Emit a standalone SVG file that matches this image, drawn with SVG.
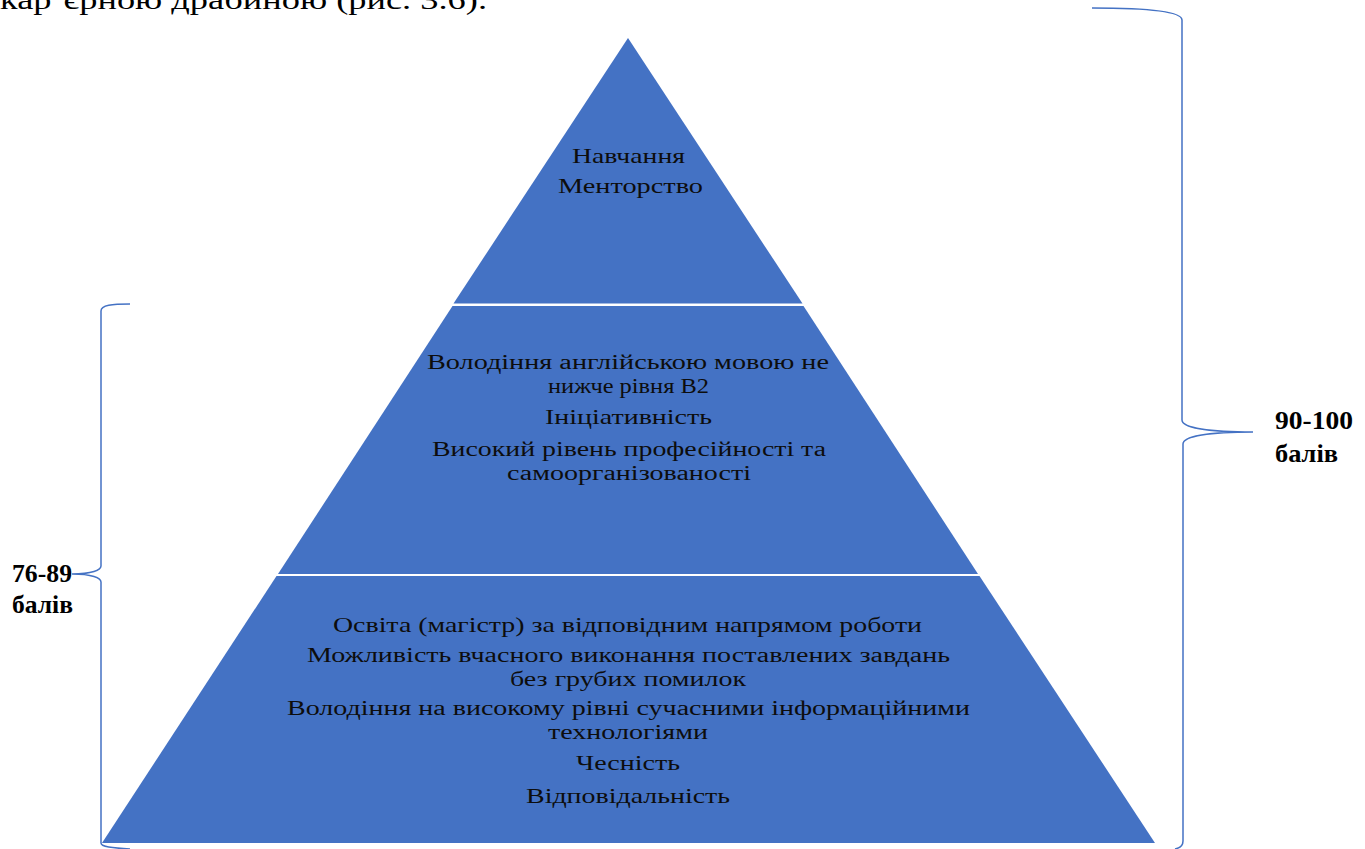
<svg xmlns="http://www.w3.org/2000/svg" width="1365" height="849" viewBox="0 0 1365 849">
<style>
.tier{fill:#4472C4;stroke:none}
.t{font-family:"Liberation Serif","DejaVu Serif","Times New Roman",serif;font-size:22px;fill:#0d0d0d;text-anchor:middle}
.tw{font-size:20.5px}
.lbl{font-family:"Liberation Serif","DejaVu Serif","Times New Roman",serif;font-size:26px;font-weight:bold;fill:#000}
.br{fill:none;stroke:#4472C4;stroke-width:1.5}
.body{font-family:"Liberation Serif","DejaVu Serif","Times New Roman",serif;font-size:28px;fill:#000}
</style>
<rect width="1365" height="849" fill="#fff"/>
<text class="body" x="0" y="9" textLength="487" lengthAdjust="spacingAndGlyphs">кар’єрною драбиною (рис. 3.6).</text>
<g id="tier-top">
<polygon class="tier" points="628,38 802.5,303.5 453.5,303.5"/>
<text class="t" x="628.5" y="163" textLength="113" lengthAdjust="spacingAndGlyphs">Навчання</text>
<text class="t" x="630.5" y="193" textLength="145" lengthAdjust="spacingAndGlyphs">Менторство</text>
</g>
<g id="tier-middle">
<polygon class="tier" points="452.5,306 803.5,306 978,574 278,574"/>
<text class="t tw" x="628" y="369" textLength="402" lengthAdjust="spacingAndGlyphs">Володіння англійською мовою не</text>
<text class="t tw" x="628.5" y="393" textLength="161" lengthAdjust="spacingAndGlyphs">нижче рівня В2</text>
<text class="t" x="628.5" y="424" textLength="167" lengthAdjust="spacingAndGlyphs">Ініціативність</text>
<text class="t tw" x="629" y="456" textLength="394" lengthAdjust="spacingAndGlyphs">Високий рівень професійності та</text>
<text class="t tw" x="629" y="480" textLength="244" lengthAdjust="spacingAndGlyphs">самоорганізованості</text>
</g>
<g id="tier-bottom">
<polygon class="tier" points="276.5,576 979.5,576 1155,843 102,843"/>
<text class="t" x="627.5" y="632" textLength="589" lengthAdjust="spacingAndGlyphs">Освіта (магістр) за відповідним напрямом роботи</text>
<text class="t tw" x="628.5" y="662" textLength="643" lengthAdjust="spacingAndGlyphs">Можливість вчасного виконання поставлених завдань</text>
<text class="t tw" x="628" y="686" textLength="236" lengthAdjust="spacingAndGlyphs">без грубих помилок</text>
<text class="t tw" x="628.5" y="715" textLength="683" lengthAdjust="spacingAndGlyphs">Володіння на високому рівні сучасними інформаційними</text>
<text class="t tw" x="628" y="739" textLength="160" lengthAdjust="spacingAndGlyphs">технологіями</text>
<text class="t" x="628" y="770" textLength="104" lengthAdjust="spacingAndGlyphs">Чесність</text>
<text class="t" x="628" y="803" textLength="204" lengthAdjust="spacingAndGlyphs">Відповідальність</text>
</g>
<g id="connectors">
<path class="br" d="M1092,8 C1150,8 1182,12 1182,20 L1182,420 C1182,428 1210,432 1253,432 C1210,432 1183,436 1183,444 L1183,841 C1183,846 1180,848 1175,849"/>
<path class="br" d="M130,304 C112,304 101,305 101,311 L101,566 C101,570 92,574 72,574 C92,574 101,578 101,582 L101,843 C101,847 112,848 130,849"/>
</g>
<g id="label-right">
<text class="lbl" x="1275" y="429" textLength="78" lengthAdjust="spacingAndGlyphs">90-100</text>
<text class="lbl" x="1275" y="462" textLength="63" lengthAdjust="spacingAndGlyphs">балів</text>
</g>
<g id="label-left">
<text class="lbl" x="12" y="582" textLength="60" lengthAdjust="spacingAndGlyphs">76-89</text>
<text class="lbl" x="12" y="613" textLength="61" lengthAdjust="spacingAndGlyphs">балів</text>
</g>
</svg>
